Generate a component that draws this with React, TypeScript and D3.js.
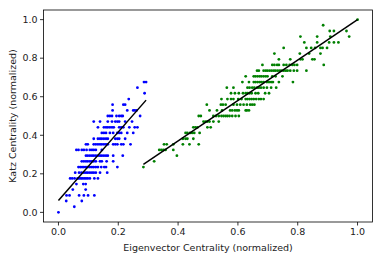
import { scaleLinear, line } from "d3";

// rows of [katz, eigenvector values on that row]
const blueRows: [number, number[]][] = [
  [0.0, [0.0]],
  [0.029, [0.053]],
  [0.059, [0.026, 0.078]],
  [0.088, [0.027, 0.037, 0.069, 0.085, 0.099, 0.12]],
  [0.118, [0.048, 0.091]],
  [0.147, [0.06, 0.083, 0.091]],
  [0.176, [0.039, 0.046, 0.054, 0.064, 0.069, 0.075, 0.08, 0.086, 0.092, 0.098, 0.105, 0.12, 0.132]],
  [0.206, [0.056, 0.069, 0.077, 0.085, 0.092, 0.098, 0.105, 0.112, 0.118, 0.125, 0.139, 0.163]],
  [0.235, [0.067, 0.073, 0.079, 0.085, 0.092, 0.098, 0.105, 0.112, 0.118, 0.125, 0.132, 0.143, 0.153, 0.159, 0.197]],
  [0.265, [0.078, 0.085, 0.092, 0.098, 0.105, 0.112, 0.118, 0.125, 0.139, 0.145, 0.161, 0.183]],
  [0.294, [0.092, 0.098, 0.105, 0.112, 0.118, 0.125, 0.132, 0.139, 0.145, 0.152, 0.159, 0.165, 0.183, 0.215]],
  [0.324, [0.06, 0.067, 0.078, 0.085, 0.094, 0.105, 0.112, 0.118, 0.125, 0.145]],
  [0.353, [0.092, 0.098, 0.118, 0.125, 0.132, 0.139, 0.145, 0.152, 0.159, 0.165, 0.183, 0.19, 0.197, 0.21, 0.217, 0.241]],
  [0.382, [0.118, 0.132, 0.139, 0.145, 0.152, 0.159, 0.165, 0.19, 0.197, 0.203, 0.223]],
  [0.412, [0.145, 0.152, 0.159, 0.172, 0.183, 0.197, 0.203, 0.21, 0.23, 0.25]],
  [0.441, [0.132, 0.152, 0.159, 0.165, 0.172, 0.179, 0.185, 0.203, 0.21, 0.217, 0.237, 0.255, 0.264]],
  [0.471, [0.118, 0.139, 0.165, 0.179, 0.19, 0.197, 0.203, 0.223, 0.246]],
  [0.5, [0.165, 0.172, 0.179, 0.194, 0.203, 0.21, 0.215, 0.273]],
  [0.529, [0.181, 0.23, 0.25, 0.255, 0.261]],
  [0.559, [0.181, 0.217, 0.223]],
  [0.588, [0.235]],
  [0.618, [0.288]],
  [0.647, [0.264]],
  [0.676, [0.286, 0.293]],
];

const greenRows: [number, number[]][] = [
  [0.235, [0.284]],
  [0.265, [0.32]],
  [0.294, [0.396]],
  [0.324, [0.337, 0.344, 0.351, 0.358, 0.384]],
  [0.353, [0.353, 0.362, 0.384, 0.416, 0.438, 0.469]],
  [0.382, [0.416, 0.425, 0.431, 0.451]],
  [0.412, [0.425, 0.431, 0.44, 0.447, 0.454, 0.472]],
  [0.441, [0.451, 0.458, 0.465, 0.498, 0.509]],
  [0.471, [0.485, 0.492, 0.498, 0.505, 0.518, 0.536]],
  [0.5, [0.469, 0.476, 0.518, 0.527, 0.536, 0.545, 0.552, 0.559, 0.565, 0.572, 0.581, 0.592, 0.603]],
  [0.529, [0.505, 0.53, 0.547, 0.574, 0.581, 0.59, 0.597, 0.603, 0.626, 0.63, 0.637]],
  [0.559, [0.496, 0.543, 0.55, 0.559, 0.585, 0.597, 0.608, 0.619, 0.63, 0.641, 0.648, 0.655]],
  [0.588, [0.545, 0.565, 0.577, 0.585, 0.601, 0.612, 0.626, 0.632, 0.639, 0.646, 0.653, 0.661, 0.67, 0.677, 0.686]],
  [0.618, [0.577, 0.59, 0.603, 0.617, 0.626, 0.632, 0.639, 0.646, 0.659, 0.668, 0.691, 0.704]],
  [0.647, [0.563, 0.585, 0.632, 0.639, 0.648, 0.655, 0.664, 0.67, 0.677, 0.686, 0.697, 0.711, 0.728]],
  [0.676, [0.615, 0.637, 0.653, 0.659, 0.666, 0.673, 0.679, 0.686, 0.697, 0.704, 0.711, 0.717, 0.737, 0.784]],
  [0.706, [0.626, 0.653, 0.659, 0.666, 0.673, 0.679, 0.686, 0.693, 0.699, 0.715, 0.726, 0.749]],
  [0.735, [0.664, 0.67, 0.686, 0.693, 0.699, 0.706, 0.713, 0.72, 0.726, 0.733, 0.74, 0.746, 0.753, 0.76, 0.766, 0.775, 0.787, 0.798, 0.829]],
  [0.765, [0.682, 0.715, 0.722, 0.731, 0.737, 0.753, 0.762, 0.773, 0.782, 0.789, 0.798, 0.887]],
  [0.794, [0.737, 0.775, 0.809, 0.816, 0.849, 0.856]],
  [0.824, [0.722, 0.807, 0.838, 0.876]],
  [0.853, [0.753, 0.829, 0.845, 0.858, 0.876, 0.883, 0.898]],
  [0.882, [0.822, 0.865, 0.905, 0.921, 0.936]],
  [0.912, [0.809, 0.865, 0.909, 0.972]],
  [0.941, [0.907, 0.921, 0.963]],
  [0.971, [0.885]],
  [1.0, [1.0]],
];

// linear fits (slope, intercept)
const blueFit = { slope: 1.776, intercept: 0.062 };
const greenFit = { slope: 1.049, intercept: -0.049 };

const xTicks = [0, 0.2, 0.4, 0.6, 0.8, 1.0];
const yTicks = [0, 0.2, 0.4, 0.6, 0.8, 1.0];

type Pt = { x: number; y: number };

const flatten = (rows: [number, number[]][]): Pt[] =>
  rows.flatMap(([y, xs]) => xs.map((x) => ({ x, y })));

export default function App() {
  const width = 382;
  const height = 260;
  const margin = { left: 43.5, right: 9.5, top: 10, bottom: 38 };
  const font = "DejaVu Sans, sans-serif";

  const x = scaleLinear().domain([-0.05, 1.05]).range([margin.left, width - margin.right]);
  const y = scaleLinear().domain([-0.05, 1.05]).range([height - margin.bottom, margin.top]);

  const blue = flatten(blueRows);
  const green = flatten(greenRows);

  const fitLine = (pts: Pt[], fit: { slope: number; intercept: number }) => {
    const xs = pts.map((p) => p.x);
    const lo = Math.min(...xs);
    const hi = Math.max(...xs);
    return line<number>()
      .x((d) => x(d))
      .y((d) => y(fit.slope * d + fit.intercept))([lo, hi]);
  };

  const bottom = height - margin.bottom;

  return (
    <svg
      width={width}
      height={height}
      style={{ position: "absolute", left: 0, top: 0, background: "white" }}
      fontFamily={font}
    >
      <rect x={0} y={0} width={width} height={height} fill="white" />
      {blue.map((p, i) => (
        <circle key={"b" + i} cx={x(p.x)} cy={y(p.y)} r={1.4} fill="blue" />
      ))}
      {green.map((p, i) => (
        <circle key={"g" + i} cx={x(p.x)} cy={y(p.y)} r={1.4} fill="green" />
      ))}
      <path d={fitLine(blue, blueFit) ?? ""} stroke="black" strokeWidth={1.5} fill="none" />
      <path d={fitLine(green, greenFit) ?? ""} stroke="black" strokeWidth={1.5} fill="none" />

      <rect
        x={margin.left}
        y={margin.top}
        width={width - margin.left - margin.right}
        height={bottom - margin.top}
        fill="none"
        stroke="black"
        strokeWidth={0.8}
      />

      {xTicks.map((t) => (
        <g key={"x" + t} transform={`translate(${x(t)},${bottom})`}>
          <line y2={3.5} stroke="black" strokeWidth={0.8} />
          <text y={12.5} textAnchor="middle" fontSize={9.5} fill="#222">
            {t.toFixed(1)}
          </text>
        </g>
      ))}
      {yTicks.map((t) => (
        <g key={"y" + t} transform={`translate(${margin.left},${y(t)})`}>
          <line x2={-3.5} stroke="black" strokeWidth={0.8} />
          <text x={-6} dy="0.34em" textAnchor="end" fontSize={9.5} fill="#222">
            {t.toFixed(1)}
          </text>
        </g>
      ))}

      <text x={x(0.5)} y={251} textAnchor="middle" fontSize={9.5} fill="#222">
        Eigenvector Centrality (normalized)
      </text>
      <text
        transform={`translate(16,${(margin.top + bottom) / 2}) rotate(-90)`}
        textAnchor="middle"
        fontSize={9.5}
        fill="#222"
      >
        Katz Centrality (normalized)
      </text>
    </svg>
  );
}
